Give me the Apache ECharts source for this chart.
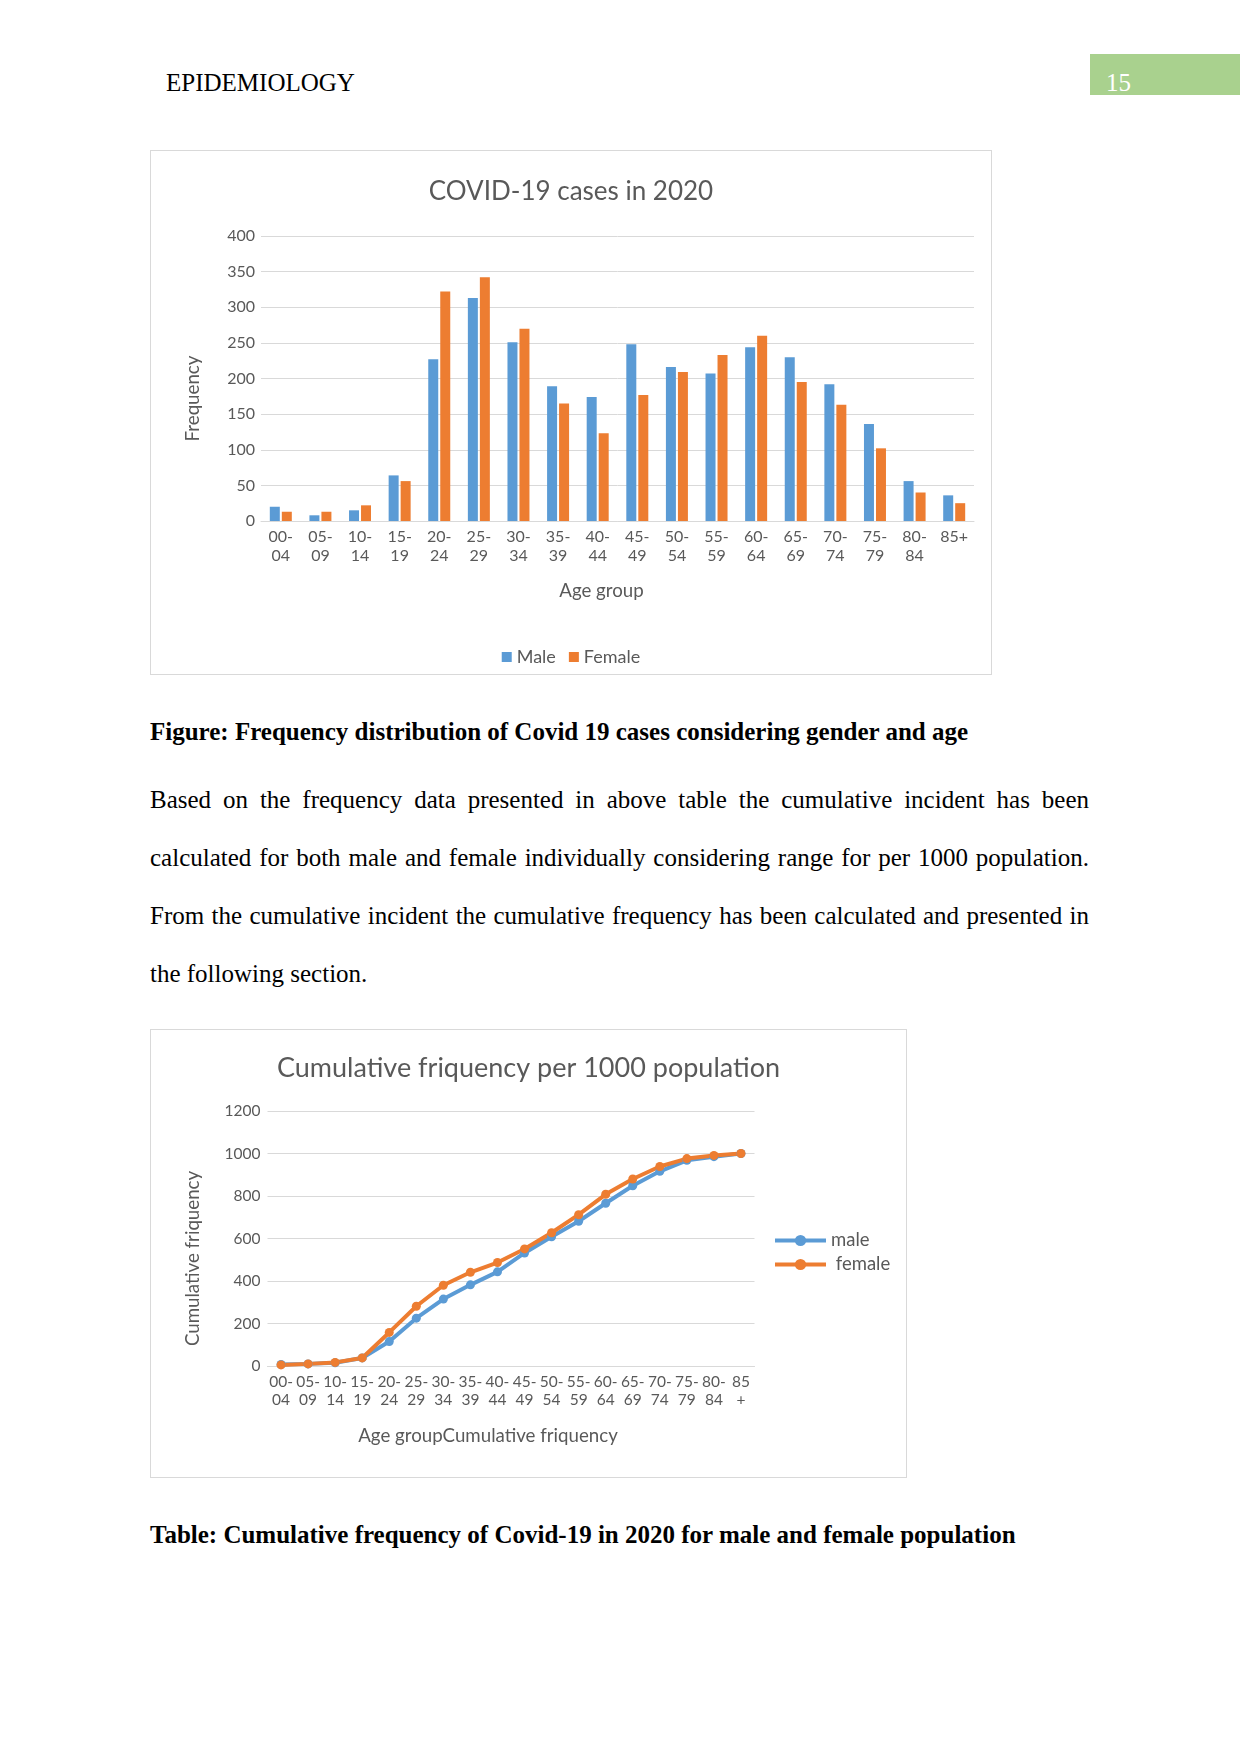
<!DOCTYPE html>
<html>
<head>
<meta charset="utf-8">
<script src="https://cdn.jsdelivr.net/npm/echarts@6/dist/echarts.min.js"></script>
<style>
  html, body { margin: 0; padding: 0; background: #fff; }
  body { width: 1241px; height: 1754px; position: relative; overflow: hidden; font-family: "Liberation Serif", "Times New Roman", serif; color: #000; }
  .abs { position: absolute; }
  .hdr { left: 166px; top: 70px; font-size: 25px; line-height: 25px; letter-spacing: 0; }
  .pg { left: 1090px; top: 54px; width: 150px; height: 41px; background: #A9D18E; }
  .pgn { left: 1106px; top: 70px; font-size: 25px; line-height: 25px; color: #fff; }
  .box { border: 1px solid #d9d9d9; box-sizing: border-box; }
  .cap { left: 150px; font-weight: bold; font-size: 25px; line-height: 30px; white-space: nowrap; }
  .para { left: 150px; width: 939px; font-size: 25px; line-height: 58px; }
  .para div { text-align: justify; text-align-last: justify; white-space: nowrap; }
  .para div.last { text-align-last: left; }
</style>
</head>
<body>
<div class="abs hdr">EPIDEMIOLOGY</div>
<div class="abs pg"></div>
<div class="abs pgn">15</div>

<div class="abs box" style="left:150px;top:150px;width:842px;height:525px;"></div>
<div id="c1" class="abs" style="left:151px;top:151px;width:840px;height:523px;"></div>

<div class="abs cap" style="top:717px;">Figure: Frequency distribution of Covid 19 cases considering gender and age</div>

<div class="abs para" style="top:771px;">
  <div style="white-space:normal;">Based on the frequency data presented in above table the cumulative incident has been</div>
  <div style="white-space:normal;">calculated for both male and female individually considering range for per 1000 population.</div>
  <div style="white-space:normal;">From the cumulative incident the cumulative frequency has been calculated and presented in</div>
  <div class="last">the following section.</div>
</div>

<div class="abs box" style="left:150px;top:1029px;width:757px;height:449px;"></div>
<div id="c2" class="abs" style="left:151px;top:1030px;width:755px;height:447px;"></div>

<div class="abs cap" style="top:1520px;">Table: Cumulative frequency of Covid-19 in 2020 for male and female population</div>

<script>
// ---- data ----
const categories = ['00-04','05-09','10-14','15-19','20-24','25-29','30-34','35-39','40-44','45-49','50-54','55-59','60-64','65-69','70-74','75-79','80-84','85+'];
const maleCases   = [20, 8, 15, 64, 227, 313, 251, 189, 174, 248, 216, 207, 244, 230, 192, 136, 56, 36];
const femaleCases = [13, 13, 22, 56, 322, 342, 270, 165, 123, 177, 209, 233, 260, 195, 163, 102, 40, 25];
const maleCumulative   = [7, 10, 15, 38, 115, 225, 315, 382, 443, 532, 608, 681, 766, 848, 916, 968, 985, 1000];
const femaleCumulative = [5, 10, 17, 38, 158, 281, 380, 441, 487, 551, 627, 712, 808, 880, 939, 976, 991, 1000];
const freqTicks = [0, 50, 100, 150, 200, 250, 300, 350, 400];
const cumTicks  = [0, 200, 400, 600, 800, 1000, 1200];

const BLUE = '#5B9BD5', ORANGE = '#ED7D31', GREY = '#595959', GRID = '#d9d9d9';
const FONT = 'Lato, "Open Sans", sans-serif';
const TITLE_SIZE = 18.7;

// ---- chart 1 ----
const c1 = echarts.init(document.getElementById('c1'), null, {renderer: 'canvas'});
c1.setOption({
  animation: false,
  textStyle: { fontFamily: FONT },
  title: {
    text: 'COVID-19 cases in 2020', left: 'center', top: 23,
    textStyle: { fontFamily: FONT, fontSize: 26, fontWeight: 'normal', color: GREY }
  },
  grid: { left: 110, right: 17, top: 85, bottom: 153 },
  legend: {
    bottom: 3, left: 'center', itemWidth: 10, itemHeight: 10, itemGap: 13,
    icon: 'rect',
    textStyle: { fontFamily: FONT, fontSize: 18, color: GREY },
    data: ['Male', 'Female']
  },
  xAxis: {
    type: 'category', data: categories,
    name: 'Age group', nameLocation: 'middle', nameGap: 60,
    nameTextStyle: { fontFamily: FONT, fontSize: TITLE_SIZE, color: GREY, padding: [0, 32, 0, 0] },
    axisLine: { lineStyle: { color: GRID, width: 1 } },
    axisTick: { show: false },
    axisLabel: {
      interval: 0, margin: 6, fontSize: 16, lineHeight: 19, color: GREY, fontFamily: FONT,
      formatter: v => v.replace('-', '-\n')
    }
  },
  yAxis: {
    type: 'value', min: freqTicks[0], max: freqTicks[freqTicks.length - 1], interval: freqTicks[1] - freqTicks[0],
    name: 'Frequency', nameLocation: 'middle', nameGap: 59,
    nameTextStyle: { fontFamily: FONT, fontSize: TITLE_SIZE, color: GREY, padding: [0, 40, 0, 0] },
    axisLine: { show: false }, axisTick: { show: false },
    axisLabel: { margin: 6, fontSize: 16, color: GREY, fontFamily: FONT, formatter: v => String(v) },
    splitLine: { lineStyle: { color: GRID, width: 1 } }
  },
  series: [
    { name: 'Male', type: 'bar', data: maleCases, barWidth: 10, barGap: '20%', itemStyle: { color: BLUE } },
    { name: 'Female', type: 'bar', data: femaleCases, barWidth: 10, itemStyle: { color: ORANGE } }
  ]
});

// ---- chart 2 ----
const c2 = echarts.init(document.getElementById('c2'), null, {renderer: 'canvas'});
c2.setOption({
  animation: false,
  textStyle: { fontFamily: FONT },
  title: {
    text: 'Cumulative friquency per 1000 population', left: 'center', top: 20,
    textStyle: { fontFamily: FONT, fontSize: 27, fontWeight: 'normal', color: GREY }
  },
  grid: { left: 116.5, right: 151.5, top: 81, bottom: 111 },
  legend: {
    orient: 'vertical', left: 617, top: 196, itemWidth: 51, itemHeight: 14, itemGap: 5,
    lineStyle: { width: 4 },
    textStyle: { fontFamily: FONT, fontSize: 18.5, color: GREY },
    formatter: n => n === 'female' ? ' ' + n : n,
    data: ['male', 'female']
  },
  xAxis: {
    type: 'category', data: categories, boundaryGap: true,
    name: 'Age groupCumulative friquency', nameLocation: 'middle', nameGap: 60,
    nameTextStyle: { fontFamily: FONT, fontSize: TITLE_SIZE, color: GREY, padding: [0, 46, 0, 0] },
    axisLine: { lineStyle: { color: GRID, width: 1 } },
    axisTick: { show: false },
    axisLabel: {
      interval: 0, margin: 7, fontSize: 15.5, lineHeight: 18, color: GREY, fontFamily: FONT,
      formatter: v => v.replace('-', '-\n').replace('+', '\n+')
    }
  },
  yAxis: {
    type: 'value', min: cumTicks[0], max: cumTicks[cumTicks.length - 1], interval: cumTicks[1] - cumTicks[0],
    name: 'Cumulative friquency', nameLocation: 'middle', nameGap: 65,
    nameTextStyle: { fontFamily: FONT, fontSize: TITLE_SIZE, color: GREY, padding: [0, 40, 0, 0] },
    axisLine: { show: false }, axisTick: { show: false },
    axisLabel: { margin: 7, fontSize: 15.5, color: GREY, fontFamily: FONT, formatter: v => String(v) },
    splitLine: { lineStyle: { color: GRID, width: 1 } }
  },
  series: [
    { name: 'male', type: 'line', data: maleCumulative, symbol: 'circle', symbolSize: 9,
      lineStyle: { color: BLUE, width: 4 }, itemStyle: { color: BLUE } },
    { name: 'female', type: 'line', data: femaleCumulative, symbol: 'circle', symbolSize: 9,
      lineStyle: { color: ORANGE, width: 4 }, itemStyle: { color: ORANGE } }
  ]
});
</script>
</body>
</html>
